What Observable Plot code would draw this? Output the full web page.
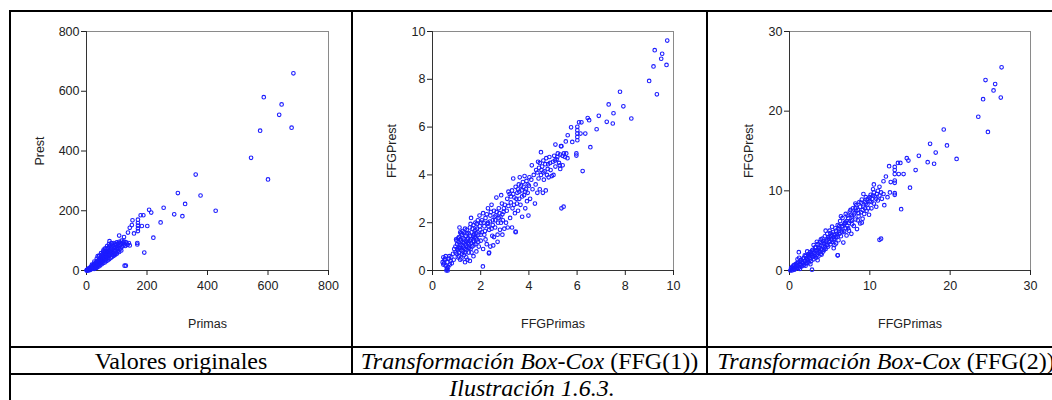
<!DOCTYPE html>
<html><head><meta charset="utf-8">
<script src="https://cdn.jsdelivr.net/npm/d3@7"></script>
<script src="https://cdn.jsdelivr.net/npm/@observablehq/plot@0.6"></script>
<style>
html,body{margin:0;padding:0;background:#fff}
body{width:1052px;height:400px;overflow:hidden;position:relative}
.ln{position:absolute;background:#000}
.p{position:absolute;top:12px}
.cap{position:absolute;height:26px;line-height:26px;font-family:'Liberation Serif','DejaVu Serif','Times New Roman',Times,serif;font-size:24px;white-space:nowrap;color:#000;text-align:center}
.cap i{font-family:'Liberation Serif','DejaVu Serif','Times New Roman',Times,serif;font-style:italic}
</style></head>
<body>
<div class="ln" style="left:9px;top:10px;width:1060px;height:2px"></div>
<div class="ln" style="left:9px;top:10px;width:2px;height:400px"></div>
<div class="ln" style="left:9px;top:346px;width:1060px;height:2px"></div>
<div class="ln" style="left:9px;top:373px;width:1060px;height:2px"></div>
<div class="ln" style="left:351px;top:10px;width:2px;height:364px"></div>
<div class="ln" style="left:706px;top:10px;width:2px;height:364px"></div>
<div id="p1" class="p" style="left:12px"></div>
<div id="p2" class="p" style="left:353px"></div>
<div id="p3" class="p" style="left:708px"></div>
<div id="c1" class="cap" style="left:11px;width:340px;top:348px"></div>
<div id="c2" class="cap" style="left:353px;width:353px;top:348px"></div>
<div id="c3" class="cap" style="left:708px;width:356px;top:348px"></div>
<div id="c4" class="cap" style="left:11px;width:1042px;top:375px;font-style:italic"></div>
<script>
// ---- Labels ----
const captions = ["Valores originales", "Transformación Box-Cox (FFG(1))", "Transformación Box-Cox (FFG(2))"];
const figureTitle = "Ilustración 1.6.3.";
const xLabels = ["Primas", "FFGPrimas", "FFGPrimas"];
const yLabels = ["Prest", "FFGPrest", "FFGPrest"];
const ticks1 = [0, 200, 400, 600, 800];
const ticks2 = [0, 2, 4, 6, 8, 10];
const ticks3 = [0, 10, 20, 30];

// ---- Panel 1: original values [Primas, Prest] ----
const panel1 = [
[0.5,0.3],[1,1],[1.5,0.5],[2,2],[3,1],[4,3],[5,2],[6,5],[7,4],[8,7],[9,3],[10,8],[11,5],[12,10],[13,7],[14,4],[15,12],[16,9],[17,14],[18,6],[19,11],[20,16],[21,9],[22,19],[23,13],[24,8],[25,21],[26,15],[27,11],[28,24],[29,18],[30,13],[31,27],[32,20],[33,9],[34,30],[35,23],[36,16],[37,48],[38,32],[39,26],[40,19],[41,37],[42,29],[43,22],[44,40],[45,33],[46,25],[47,45],[48,36],[49,28],[50,52],[51,41],[52,31],[53,47],[54,55],[55,38],[56,50],[57,70],[58,44],[59,60],[60,34],[61,53],[62,65],[63,46],[64,58],[65,38],[66,72],[67,55],[68,48],[69,63],[70,42],[71,75],[72,58],[73,67],[74,50],[75,80],[76,98],[77,62],[78,71],[79,54],[80,85],[81,66],[82,77],[83,58],[84,90],[85,70],[86,52],[88,82],[89,64],[90,92],[91,75],[92,56],[94,86],[95,68],[96,78],[98,88],[99,60],[100,94],[101,72],[102,82],[104,65],[105,90],[106,76],[108,96],[109,70],[110,85],[112,92],[113,74],[115,88],[116,100],[118,80],[120,93],[122,84],[124,97],[126,88],[128,82],[130,95],[133,90],[136,86],[140,92],[143,84],
[5,0],[10,1],[15,4],[20,6],[25,5],[30,8],[35,11],[40,13],[45,17],[50,21],[55,25],[60,27],[65,31],[70,34],[75,38],[80,42],[85,46],[90,49],[95,53],[100,56],[108,62],[115,67],
[18,20],[26,30],[34,40],[42,50],[48,58],[55,64],[62,74],[68,82],[74,88],[82,92],[30,18],[38,24],[46,30],[54,36],[62,42],[70,48],[78,52],[86,60],[94,66],[102,74],
[684,660],[586,580],[645,556],[637,521],[574,468],[678,478],[544,377],[600,305],[361,321],[302,259],[377,251],[326,223],[427,200],[255,210],[290,188],[317,182],[245,161],[221,110],[191,60],[207,203],[214,194],[188,185],[179,185],[152,168],[170,170],[170,159],[170,150],[170,141],[170,132],[183,149],[201,149],[143,143],[150,152],[137,127],[157,124],[168,92],[168,87],[126,16],[130,16],[108,117],[124,112]
];

// ---- Panel 2: FFG(1) [FFGPrimas, FFGPrest] ----
const panel2 = [
[0.42,0.35],[0.45,0.55],[0.48,0.3],[0.5,0.45],[0.55,0.2],[0.58,0.0],[0.6,0.1],[0.62,0.35],[0.65,0.15],[0.68,0.5],[0.7,0.6],[0.72,0.25],[0.75,0.4],[0.78,0.55],[0.8,0.3],[0.55,0.6],[0.6,0.05],[0.85,0.7],[0.88,0.45],[0.9,0.9],[0.45,0.25],[0.52,0.5],[0.63,0.0],
[0.95,1.0],[0.98,1.3],[1.0,0.7],[1.02,1.1],[1.05,0.85],[1.08,1.2],[1.1,0.6],[1.1,1.4],[1.12,1.8],[1.15,0.95],[1.18,1.25],[1.2,0.5],[1.2,1.05],[1.22,1.5],[1.25,0.8],[1.28,1.35],[1.3,0.65],[1.3,1.15],[1.32,1.6],[1.35,0.9],[1.38,1.45],[1.4,0.55],[1.4,1.2],[1.42,1.7],[1.45,1.0],[1.48,1.35],[1.5,0.75],[1.5,1.55],[1.52,1.1],[1.55,1.8],[1.58,0.9],[1.6,1.3],[1.6,2.2],[1.62,1.6],[1.65,1.0],[1.68,1.45],[1.7,0.6],[1.7,1.9],[1.72,1.2],[1.75,1.65],[1.78,2.0],[1.8,1.35],[1.82,0.8],[1.85,1.75],[1.88,2.1],[1.9,1.5],[1.92,1.0],[1.95,2.3],[1.98,1.7],[2.0,1.25],[2.02,2.0],[1.25,1.65],[1.15,0.45],[1.35,0.35],[1.05,0.55],[0.95,0.75],[1.45,0.45],[1.55,0.4],[1.0,1.25],[1.08,0.95],[1.15,1.3],[1.22,0.7],[1.3,0.95],[1.38,1.1],[1.45,1.3],[1.52,0.95],[1.6,1.15],[1.68,1.25],[1.75,1.4],[1.82,1.55],[1.12,1.05],[1.25,1.2],[1.4,0.85],[1.55,1.25],[1.7,1.05],[1.85,1.3],
[1.02,0.9],[1.06,1.35],[1.1,0.75],[1.18,1.55],[1.2,0.85],[1.26,1.0],[1.32,1.3],[1.36,0.75],[1.42,1.55],[1.46,1.15],[1.5,0.95],[1.56,1.45],[1.62,0.75],[1.66,1.75],[1.72,1.5],[1.78,1.1],[1.84,1.95],[1.9,1.2],[1.96,1.85],[2.0,1.5],[1.15,1.6],[1.35,1.75],[1.58,1.95],[1.78,1.7],
[2.05,1.6],[2.1,2.4],[2.1,0.9],[2.15,1.85],[2.2,1.3],[2.2,2.2],[2.25,1.1],[2.28,1.95],[2.3,2.6],[2.35,1.7],[2.4,2.3],[2.4,1.0],[2.45,2.75],[2.48,1.45],[2.5,2.1],[2.52,1.05],[2.55,2.5],[2.6,1.8],[2.62,2.3],[2.65,3.05],[2.7,1.5],[2.72,2.0],[2.75,2.6],[2.8,1.7],[2.82,2.25],[2.85,3.15],[2.88,2.8],[2.9,1.5],[2.92,2.1],[2.95,2.45],[2.98,1.75],[3.0,2.75],[2.7,1.2],[2.55,1.4],[2.35,0.75],[2.15,1.5],[2.3,2.0],[2.45,1.75],[2.6,2.1],[2.75,2.2],[2.9,2.35],[2.05,2.1],
[2.12,2.0],[2.18,1.65],[2.25,2.35],[2.32,1.85],[2.38,2.05],[2.42,2.45],[2.5,1.9],[2.58,2.25],[2.66,2.45],[2.78,2.4],[2.84,2.0],[2.96,2.6],
[3.05,2.0],[3.08,2.5],[3.1,3.0],[3.12,1.8],[3.15,2.7],[3.2,3.2],[3.22,2.2],[3.25,2.85],[3.3,3.35],[3.32,2.6],[3.35,3.85],[3.4,3.05],[3.42,2.4],[3.45,3.5],[3.5,2.8],[3.52,3.25],[3.55,2.5],[3.58,3.6],[3.6,3.0],[3.62,3.9],[3.65,2.75],[3.7,3.35],[3.72,2.25],[3.75,3.7],[3.8,3.15],[3.82,3.95],[3.85,2.6],[3.88,3.4],[3.9,3.75],[3.92,2.9],[3.95,3.25],[3.98,2.3],[4.0,3.55],[3.3,1.8],[3.45,1.6],[3.15,3.3],[3.38,2.75],[3.6,3.3],[3.78,3.5],
[3.25,3.1],[3.35,3.2],[3.48,3.0],[3.55,3.4],[3.68,3.55],[3.72,3.1],[3.85,3.3],[3.95,3.6],[4.02,3.9],
[4.05,3.0],[4.1,3.8],[4.12,4.4],[4.15,3.4],[4.2,4.0],[4.25,2.8],[4.28,3.6],[4.3,4.2],[4.35,3.25],[4.38,4.55],[4.4,3.85],[4.42,4.3],[4.45,3.4],[4.5,4.0],[4.5,4.95],[4.55,4.35],[4.58,3.25],[4.6,4.6],[4.62,3.8],[4.65,4.15],[4.7,3.35],[4.72,4.7],[4.75,4.0],[4.8,4.45],[4.82,3.9],[4.85,4.75],[4.9,4.2],[4.95,3.95],[5.0,4.55],[5.02,4.0],[5.05,4.8],[5.1,4.35],[5.15,4.65],[5.2,4.9],[5.25,4.5],[5.3,4.85],[5.35,5.2],[5.4,4.8],[5.45,4.9],[5.5,4.75],[5.55,4.9],[5.6,4.7],[5.28,4.4],[5.3,4.25],[5.4,4.4],
[4.35,4.1],[4.45,4.5],[4.52,4.2],[4.6,4.1],[4.68,4.45],[4.78,4.25],[4.88,4.5],[5.08,4.6],[5.18,4.75],
[9.74,9.62],[9.22,9.22],[9.53,9.07],[9.49,8.86],[9.17,8.54],[9.71,8.60],[8.99,7.93],[9.31,7.37],[7.78,7.48],[7.31,6.95],[7.92,6.87],[6.90,6.47],[7.51,6.58],[8.25,6.36],[7.23,6.22],[7.48,6.15],[6.81,5.91],[6.44,6.38],[6.50,6.29],[6.08,6.20],[6.18,6.20],[6.34,5.73],[6.14,5.73],[6.01,6.01],[6.01,5.87],[6.01,5.73],[6.01,5.59],[6.01,5.45],[5.75,5.99],[5.80,5.38],[6.55,5.16],[6.23,4.16],[5.97,4.90],[5.97,4.81],[5.44,2.67],[5.35,2.60],[5.10,5.27],[5.33,5.20],[5.61,5.66],[5.53,5.40],[3.45,1.63],[2.09,0.17],[2.34,0.72]
];

// ---- Panel 3: FFG(2) [FFGPrimas, FFGPrest] ----
const panel3 = [
[0.1,0.0],[0.2,0.1],[0.3,0.0],[0.2,0.3],[0.3,0.4],[0.4,0.2],[0.5,0.6],[0.5,0.2],[0.6,0.1],[0.7,0.4],[0.8,0.8],[0.9,0.3],[1.0,0.6],[1.1,1.0],[1.2,0.4],[1.3,0.8],[1.4,1.3],[1.5,0.5],[1.6,1.0],[1.7,1.5],[1.8,0.7],[1.9,1.2],[2.0,1.8],[2.1,0.9],[2.2,1.4],[2.3,2.0],[2.4,1.0],[2.5,1.6],[2.6,2.3],[2.7,1.2],[2.8,1.9],[2.9,2.6],[3.0,1.4],[3.1,2.2],[3.2,2.9],[3.3,1.6],[3.4,2.5],[3.5,3.3],[3.6,1.8],[3.7,2.8],[3.8,3.6],[3.9,2.1],[4.0,3.1],[4.1,4.0],[4.2,2.4],[4.3,3.4],[4.4,4.3],[4.5,2.7],[4.6,3.7],[4.7,4.6],[4.8,3.0],[4.9,4.0],[5.0,5.0],[5.1,3.3],[5.2,4.3],[5.3,3.6],[5.4,4.8],[5.5,2.8],[5.6,4.0],[5.7,5.3],[5.8,3.4],[5.9,4.6],[6.0,5.7],[6.1,3.8],[6.2,5.0],[6.3,6.2],[6.4,4.3],[6.5,5.5],[6.6,6.6],[6.7,3.5],[6.8,4.9],[6.9,6.0],[7.0,7.1],[7.1,4.4],[7.2,5.6],[7.3,6.6],[7.4,5.0],[7.5,7.4],[7.6,6.2],[7.7,4.6],[7.8,6.8],[7.9,7.8],[8.0,5.6],[8.1,7.2],[8.2,6.4],[8.3,8.2],[8.4,5.2],[8.5,7.6],[8.6,6.8],[8.7,8.6],[8.8,5.9],[8.9,7.3],[9.0,8.9],[9.1,6.5],[9.2,8.0],[9.3,7.1],[9.4,8.6],[9.5,9.2],[9.6,7.5],[9.7,8.3],[9.8,9.0],[9.9,7.0],[10.0,8.7],[10.1,9.5],[10.2,7.8],[10.3,9.0],[10.4,10.2],[10.5,8.4],[10.6,9.3],[10.8,8.0],[10.9,9.6],[11.0,8.8],[11.2,9.4],[11.4,9.8],[11.5,9.0],[11.7,9.6],
[0.6,0.7],[0.9,0.9],[1.0,1.4],[1.16,2.3],[1.3,0.2],[1.5,1.1],[1.7,0.9],[1.9,1.9],[2.0,0.6],[2.2,2.4],[2.3,1.3],[2.5,2.0],[2.6,0.8],[2.8,2.5],[2.8,0.1],[3.0,3.2],[3.1,1.8],[3.3,2.9],[3.4,3.6],[3.5,1.3],[3.6,2.6],[3.8,2.3],[3.9,3.9],[4.0,2.0],[4.2,3.7],[4.4,2.9],[4.5,5.0],[4.6,3.2],[4.8,4.2],[5.0,3.6],[5.1,4.7],[5.3,5.5],[5.5,4.2],[5.6,3.2],[5.8,5.0],[6.0,1.9],[6.0,4.4],[6.2,5.6],[6.4,6.8],[6.6,4.8],[6.8,5.8],[7.0,5.3],[7.2,6.9],[7.4,6.0],[7.6,7.6],[7.8,5.8],[8.0,7.0],[8.2,8.4],[8.5,6.3],[8.8,8.0],[9.0,6.0],[9.2,9.6],[9.5,8.4],[9.8,7.8],[10.2,8.6],[10.5,9.8],[10.8,9.0],[11.0,10.0],[1.2,1.6],[1.4,0.7],[1.8,1.6],[2.1,1.5],[2.4,1.8],[2.7,2.1],[3.0,2.4],[3.2,2.0],[3.6,3.0],[4.0,3.5],[4.3,2.6],[4.7,3.9],[5.2,3.9],[5.6,4.5],[6.1,5.2],[6.5,4.9],[7.1,6.2],[7.7,7.0],[8.3,7.5],[8.9,8.5],[9.4,7.8],[10.0,9.2],
[0.4,0.5],[0.7,0.2],[0.9,0.6],[1.1,0.3],[1.3,1.1],[1.6,0.6],[2.0,1.2],[2.2,1.0],[2.4,2.1],[2.6,1.4],[2.9,1.7],[3.2,2.5],[3.4,1.9],[3.7,2.4],[4.0,2.6],[4.2,3.0],[4.5,3.5],[4.7,3.2],[5.0,4.2],[5.3,4.5],[5.5,3.8],[5.8,4.2],[6.2,4.6],[6.6,5.6],[7.0,6.0],[7.3,5.3],[7.8,6.3],[8.2,7.8],[8.6,7.2],[9.1,7.6],[9.6,8.9],[10.4,9.4],
[26.4,25.5],[24.4,23.9],[25.6,23.4],[25.4,22.6],[24.1,21.5],[26.3,21.7],[23.5,19.3],[24.7,17.4],[19.2,17.7],[17.5,15.9],[19.6,15.7],[16.1,14.4],[18.2,14.8],[14.6,14.1],[14.8,13.8],[17.2,13.6],[18.0,13.4],[20.8,14.0],[15.7,12.6],[13.5,13.5],[13.8,13.5],[13.1,13.0],[13.1,12.6],[13.1,12.1],[13.1,11.3],[13.1,11.0],[12.4,13.1],[14.2,12.1],[13.6,12.1],[12.6,11.1],[15.0,10.4],[13.9,7.7],[11.4,4.0],[11.2,3.85],[13.1,9.7],[13.1,9.5],[12.0,11.8],[11.7,11.2],[10.5,10.8],[11.2,10.5],[6.0,1.9],[12.2,9.2],[11.8,8.2],[12.5,9.8]
];

const dotColor = "#1c1cff";

function panel(data, ticks, xLabel, yLabel, width, ml, mr, yOff) {
  const dom = [ticks[0], ticks[ticks.length - 1]];
  const font = {fontFamily: "Arial, 'Liberation Sans', sans-serif", fontSize: 12.5};
  return Plot.plot({
    width, height: 334,
    marginLeft: ml, marginRight: mr, marginTop: 19, marginBottom: 76,
    style: "font: 12.5px Arial, 'Liberation Sans', sans-serif; color: #222; background: transparent; overflow: visible;",
    x: {domain: dom},
    y: {domain: dom},
    marks: [
      Plot.frame({stroke: "#8a8a8a"}),
      Plot.ruleX([dom[0]], {stroke: "#333"}),
      Plot.ruleY([dom[0]], {stroke: "#333"}),
      Plot.axisX({ticks, tickSize: 5, tickPadding: 6, label: xLabel, labelAnchor: "center", labelOffset: 57, labelArrow: "none", ...font}),
      Plot.axisY({ticks, tickSize: 5, tickPadding: 2, label: yLabel, labelAnchor: "center", labelOffset: yOff, labelArrow: "none", ...font}),
      Plot.dot(data, {x: d => d[0], y: d => d[1], r: 1.8, stroke: dotColor, strokeWidth: 1.1, fill: "none"})
    ]
  });
}

document.getElementById("p1").append(panel(panel1, ticks1, xLabels[0], yLabels[0], 338, 74, 22, 51));
document.getElementById("p2").append(panel(panel2, ticks2, xLabels[1], yLabels[1], 353, 79, 33, 45.5));
document.getElementById("p3").append(panel(panel3, ticks3, xLabels[2], yLabels[2], 344, 81, 22, 45));

function setCaption(id, text) {
  const el = document.getElementById(id);
  const m = text.match(/^(.*?)(\s*\(.*\))$/);
  if (m) {
    const i = document.createElement("i");
    i.textContent = m[1];
    el.append(i, document.createTextNode(m[2]));
  } else el.textContent = text;
}
setCaption("c1", captions[0]);
setCaption("c2", captions[1]);
setCaption("c3", captions[2]);
document.getElementById("c4").textContent = figureTitle;
</script>
</body></html>
